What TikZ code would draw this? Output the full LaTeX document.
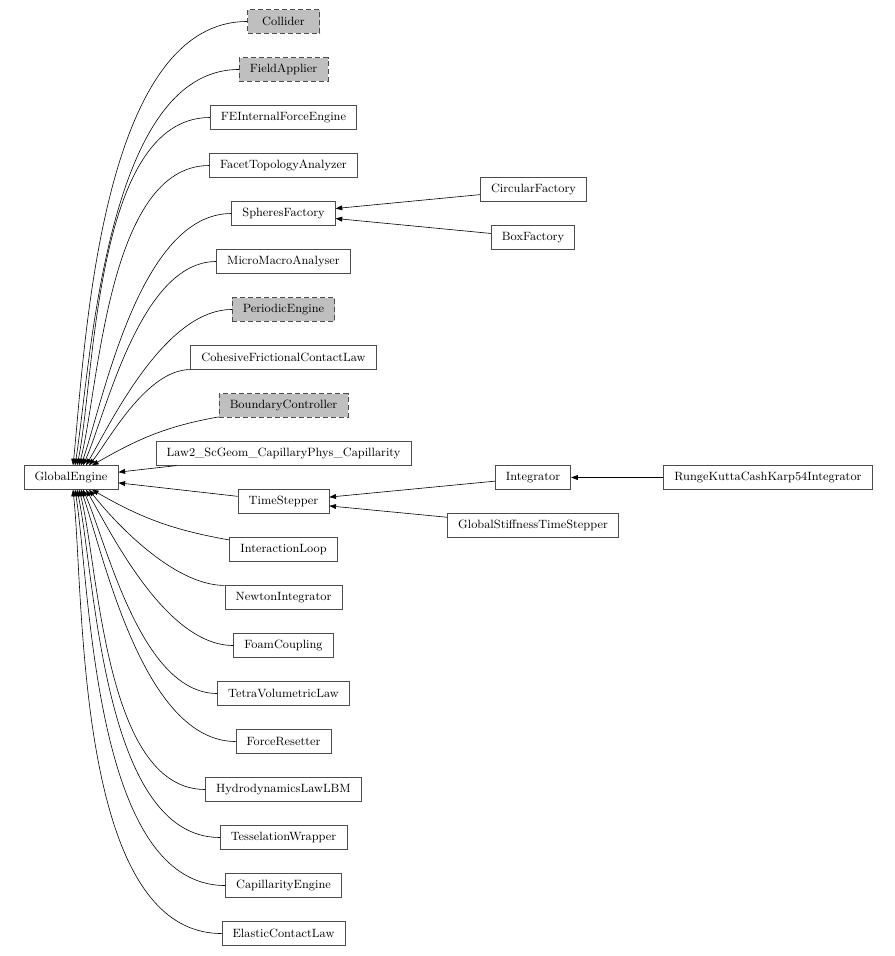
\documentclass[tikz,border=0pt]{standalone}
\usetikzlibrary{arrows.meta}
\definecolor{AbstrClr}{rgb}{0.75,0.75,0.75}
\definecolor{BoxClr}{rgb}{0.3,0.3,0.3}

\begin{document}
\begin{tikzpicture}[x=0.75pt,y=0.75pt,
  cls/.style={draw=BoxClr,line width=0.5pt,fill=white,minimum width=54pt,
    minimum height=17.6pt,inner xsep=8pt,inner ysep=0pt,
    font=\fontsize{9}{10}\selectfont},
  abstr/.style={cls,fill=AbstrClr,dash pattern=on 3.75pt off 2.25pt},
  inh/.style={-{Triangle[length=5pt,width=3.6pt]},line width=0.45pt}]
\useasboundingbox (0,0) rectangle (895,-956);

\node[cls] (ge) at (71,-477.5) {GlobalEngine};

% classes derived from GlobalEngine
\node[abstr] (col)  at (283.5,-21.5)  {Collider};
\node[abstr] (fa)   at (283.5,-69.5)  {FieldApplier};
\node[cls]   (fei)  at (283.5,-117.5) {FEInternalForceEngine};
\node[cls]   (fta)  at (283.5,-165.5) {FacetTopologyAnalyzer};
\node[cls]   (sf)   at (283.5,-213.5) {SpheresFactory};
\node[cls]   (mma)  at (283.5,-261.5) {MicroMacroAnalyser};
\node[abstr] (pe)   at (283.5,-309.5) {PeriodicEngine};
\node[cls]   (cfcl) at (283.5,-357.5) {CohesiveFrictionalContactLaw};
\node[abstr] (bc)   at (283.5,-405.5) {BoundaryController};
\node[cls]   (law)  at (283.5,-453.5) {Law2\_ScGeom\_CapillaryPhys\_Capillarity};
\node[cls]   (ts)   at (283.5,-501.5) {TimeStepper};
\node[cls]   (il)   at (283.5,-549.5) {InteractionLoop};
\node[cls]   (ni)   at (283.5,-597.5) {NewtonIntegrator};
\node[cls]   (fc)   at (283.5,-645.5) {FoamCoupling};
\node[cls]   (tvl)  at (283.5,-693.5) {TetraVolumetricLaw};
\node[cls]   (fr)   at (283.5,-741.5) {ForceResetter};
\node[cls]   (hyd)  at (283.5,-789.5) {HydrodynamicsLawLBM};
\node[cls]   (tw)   at (283.5,-837.5) {TesselationWrapper};
\node[cls]   (ce)   at (283.5,-885.5) {CapillarityEngine};
\node[cls]   (ecl)  at (283.5,-933.5) {ElasticContactLaw};

% second level
\node[cls] (circ)  at (533.5,-189.5) {CircularFactory};
\node[cls] (boxf)  at (533,-237.5)   {BoxFactory};
\node[cls] (integ) at (533,-477.5)   {Integrator};
\node[cls] (gsts)  at (533,-525.5)   {GlobalStiffnessTimeStepper};
\node[cls] (rk)    at (768,-477.5)   {RungeKuttaCashKarp54Integrator};

\foreach \n/\s/\dx/\a in {col/west/2/84,fa/west/4/81,fei/west/6/78,fta/west/8/75,
    sf/west/10/71,mma/west/12/66,pe/west/15/60,cfcl/south west/18/52}
  \draw[inh] (\n.\s) to[out=180,in=\a,out looseness=0.8,in looseness=0.6]
    ([xshift=\dx*0.75pt]ge.north);
\foreach \n/\s/\dx/\a in {ecl/west/2/-84,ce/west/4/-81,tw/west/6/-78,hyd/west/8/-75,
    fr/west/10/-71,tvl/west/12/-66,fc/west/15/-60,ni/north west/18/-52}
  \draw[inh] (\n.\s) to[out=180,in=\a,out looseness=0.8,in looseness=0.6]
    ([xshift=\dx*0.75pt]ge.south);
\draw[inh] (bc) to[out=190,in=30] (ge);
\draw[inh] (il) to[out=170,in=-30] (ge);
\draw[inh] (law) -- (ge);
\draw[inh] (ts) -- (ge);

\draw[inh] (circ) -- (sf);
\draw[inh] (boxf) -- (sf);
\draw[inh] (integ) -- (ts);
\draw[inh] (gsts) -- (ts);
\draw[inh] (rk) -- (integ);

\end{tikzpicture}
\end{document}
